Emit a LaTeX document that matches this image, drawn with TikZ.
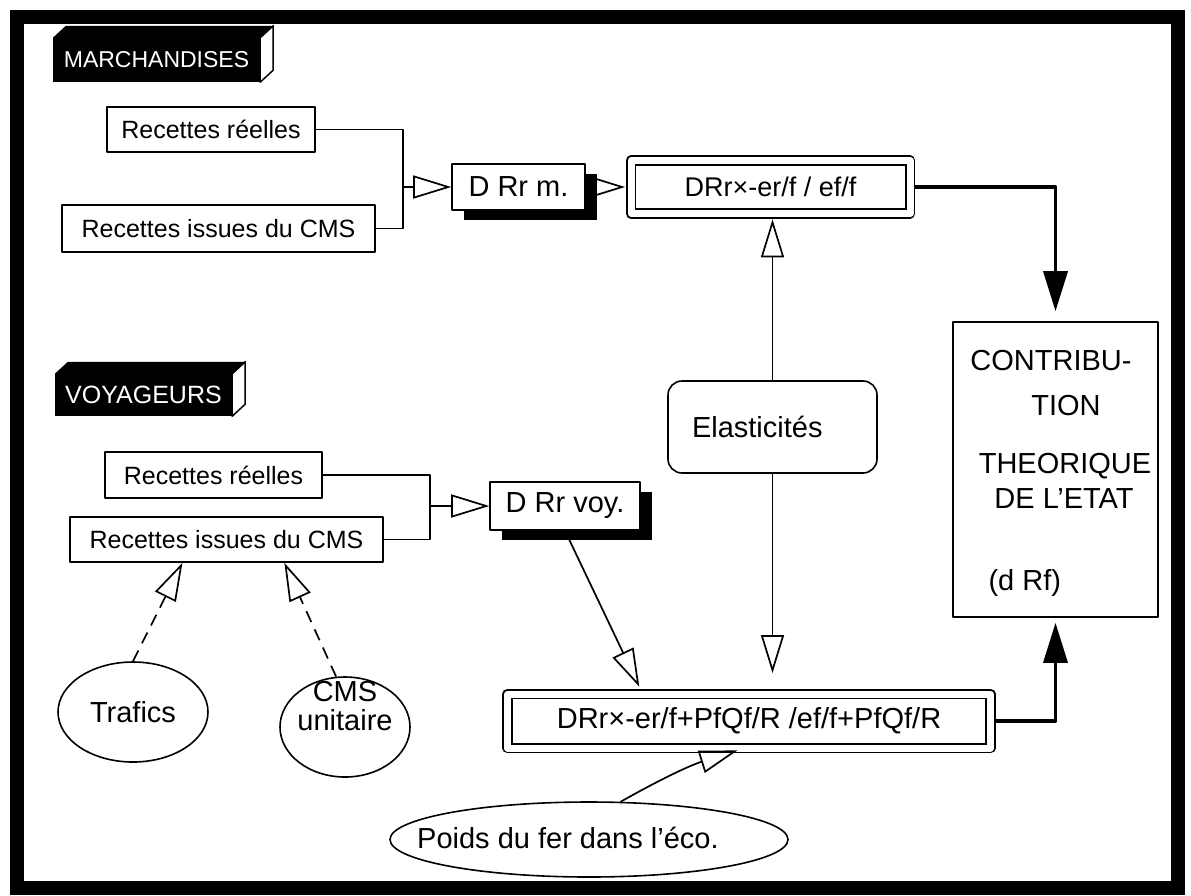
\documentclass[tikz,border=0pt]{standalone}
\usepackage{fontspec}
\setmainfont{Liberation Sans}
\usetikzlibrary{arrows.meta, calc, shapes.geometric, shadows}
\newcommand{\fsmall}{\fontsize{25}{30}\selectfont}
\newcommand{\fbig}{\fontsize{29}{33}\selectfont}

\begin{document}
\begin{tikzpicture}[x=1pt, y=-1pt, line join=round,
    bx/.style={draw, line width=1.6pt, inner sep=0pt, align=center},
    rec/.style={bx, font=\fsmall},
    delta/.style={bx, font=\fbig, fill=white,
                  drop shadow={shadow xshift=12pt, shadow yshift=-10pt, fill=black, opacity=1}},
    dbl/.style={bx, double, double distance=7pt, line width=1.8pt, font=\fbig},
    oval/.style={ellipse, draw, line width=1.6pt, inner sep=0pt, font=\fbig},
    tag/.style={fill=black, text=white, inner sep=0pt},
    ar/.style={-{Triangle[open, length=38pt, width=23pt]}, line width=1.7pt},
    thk/.style={-{Triangle[length=40pt, width=24pt]}, line width=3.5pt}]
  \useasboundingbox (0,0) rectangle (1191,895);
  \draw[line width=14pt, line join=miter] (17,17) rectangle (1178,888);

  % marchandises
  \node[tag, minimum width=207pt, minimum height=44pt, font=\fontsize{23}{26}\selectfont] (marc) at (156.5,60) {MARCHANDISES};
  \node[rec, minimum width=208pt, minimum height=45pt] (rr1) at (211,129.5) {Recettes réelles};
  \node[rec, minimum width=313pt, minimum height=47pt] (ric1) at (218.5,228.5) {Recettes issues du CMS};
  \coordinate (jm) at (403,187);
  \node[delta, minimum width=133pt, minimum height=46pt] (drm) at (518.5,187) {D Rr m.};
  \node[dbl, minimum width=279pt, minimum height=53pt, font=\fontsize{27}{30}\selectfont] (dr1) at (770.5,187) {DRr×-er/f / ef/f};

  % voyageurs
  \node[tag, minimum width=177pt, minimum height=42pt, font=\fontsize{25}{28}\selectfont] (voy) at (143.5,395) {VOYAGEURS};
  \node[rec, minimum width=217pt, minimum height=46pt] (rr2) at (213.5,475) {Recettes réelles};
  \node[rec, minimum width=313pt, minimum height=45pt] (ric2) at (226.5,539.5) {Recettes issues du CMS};
  \coordinate (jv) at (430,506);
  \node[delta, minimum width=150pt, minimum height=48pt] (drv) at (565,506) {D Rr voy.};
  \node[dbl, minimum width=483pt, minimum height=54pt] (dr2) at (749,721) {DRr×-er/f+PfQf/R /ef/f+PfQf/R};

  \node[oval, minimum width=150pt, minimum height=100pt] (trf) at (133,712) {Trafics};
  \node[oval, minimum width=130pt, minimum height=100pt] (cmsu) at (345,727) {};
  \node[font=\fbig, align=center, inner sep=0pt] (cmst) at (345,706) {CMS\\[-4pt]unitaire};
  \node[oval, minimum width=398pt, minimum height=75pt] (poids) at (589,839.5) {};
  \node[font=\fbig, anchor=base west, inner sep=0pt] (poidst) at (417,848) {Poids du fer dans l’éco.};

  \node[bx, rounded corners=14pt, minimum width=209pt, minimum height=92pt, font=\fbig,
        text width=161pt, align=left] (ela) at (772.5,427) {Elasticités};

  % contribution
  \node[bx, minimum width=205pt, minimum height=295pt] (ctb) at (1055.5,469.5) {};
  \node[font=\fbig, anchor=base] (ct1) at (1051,370) {CONTRIBU-};
  \node[font=\fbig, anchor=base] (ct2) at (1066,415) {TION};
  \node[font=\fbig, anchor=base] (ct3) at (1065,473) {THEORIQUE};
  \node[font=\fbig, anchor=base] (ct4) at (1064,508) {DE L’ETAT};
  \node[font=\fbig, anchor=base west] (ct5) at (985,590) {(d Rf)};

  % black blocks: top and side faces
  \foreach \t in {marc, voy} {
    \fill (\t.north west) -- ++(13,-12) -- ([shift={(13,-12)}]\t.north east) -- (\t.north east) -- cycle;
    \draw[line width=1.5pt, fill=white] (\t.north east) -- ++(13,-12)
      -- ([shift={(13,-12)}]\t.south east) -- (\t.south east) -- cycle;
  }

  % connectors
  \draw[line width=1.6pt] (rr1.east) -| (jm) |- (ric1.east);
  \draw[ar] (jm) -- (drm.west);
  \draw[ar, shorten >=5pt] (drm.east) -- (dr1.west);
  \draw[line width=1.6pt] (rr2.east) -| (jv) |- (ric2.east);
  \draw[ar] (jv) -- (drv.west);
  \draw[ar, shorten >=7pt] (drv.south) -- ($(dr2.north west)!0.28!(dr2.north east)$);
  \draw[ar, shorten >=5pt] (ela.north) -- (ela.north |- dr1.south);
  \draw[ar, shorten >=20pt] (ela.south) -- (ela.south |- dr2.north);
  \draw[ar, dash pattern=on 12pt off 8pt] (trf.north) -- ($(ric2.south west)!0.36!(ric2.south east)$);
  \draw[ar, dash pattern=on 12pt off 8pt] (cmsu.100) -- ($(ric2.south west)!0.684!(ric2.south east)$);
  \draw[ar, shorten >=5pt] (poids.50) to[bend left=6] ($(dr2.south west)!0.486!(dr2.south east)$);
  \draw[thk, shorten <=4pt, shorten >=10pt] (dr1.east) -| (ctb.north);
  \draw[thk, shorten <=4pt, shorten >=5pt] (dr2.east) -| (ctb.south);
\end{tikzpicture}
\end{document}
